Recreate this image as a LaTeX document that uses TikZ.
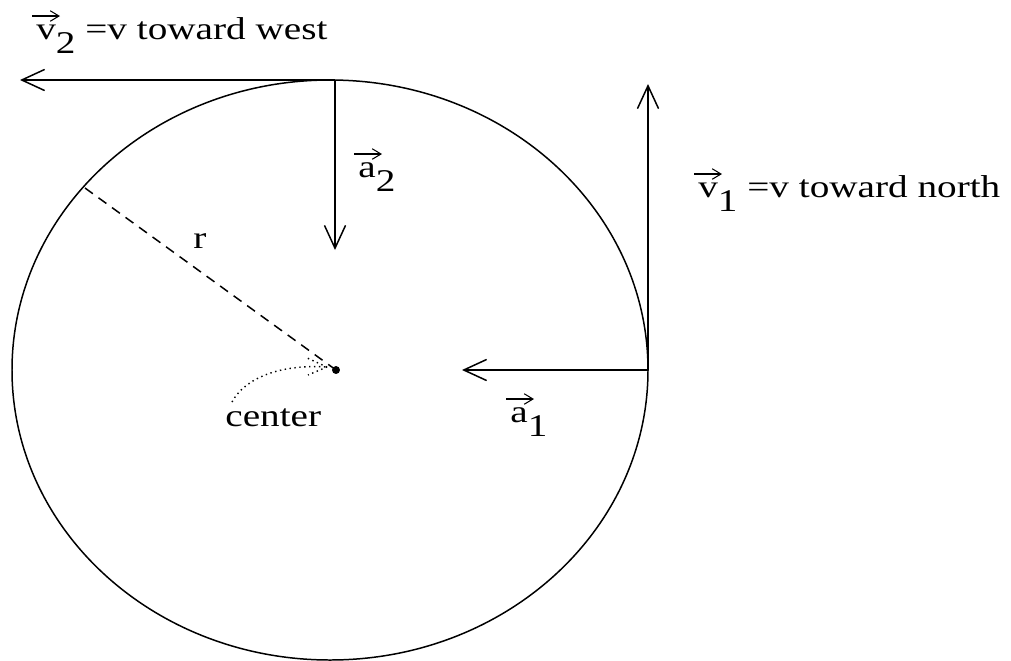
\documentclass[tikz,border=0pt]{standalone}
\usepackage{fontspec}
\setmainfont{Liberation Serif}
\usetikzlibrary{arrows.meta}
\newcommand{\wide}[1]{\scalebox{1.24}[1]{#1}}
\newcommand{\low}[1]{\raisebox{-8pt}{#1}}

\begin{document}
\begin{tikzpicture}[x=0.02cm, y=-0.02cm,
  vec/.style={-{Straight Barb[length=13pt,width=12pt]}, line width=0.85pt},
  overarrow/.style={-{Straight Barb[length=5pt,width=6pt]}, line width=0.6pt},
  lbl/.style={font=\fontsize{18}{21}\selectfont, inner sep=0pt, anchor=base west}
]
\useasboundingbox (0,0) rectangle (1011,660);

% orbit and its points
\coordinate (O) at (330,370);
\draw[line width=0.85pt] (O) ellipse [x radius=318, y radius=290];
\coordinate (top)  at (335,80);
\coordinate (east) at (648,370);
\coordinate (rim)  at (85,188);
\node[circle, fill, inner sep=1.6pt] (ctr) at (336,370) {};

% velocity and acceleration vectors
\coordinate (v2end) at (20,80);
\coordinate (a2end) at (335,250);
\coordinate (v1end) at (648,84);
\coordinate (a1end) at (462,370);
\draw[vec] (top)  -- (v2end);
\draw[vec] (top)  -- (a2end);
\draw[vec] (east) -- (v1end);
\draw[vec] (east) -- (a1end);

% radius
\draw[dash pattern=on 5.5pt off 4pt, line width=0.85pt] (rim) -- (ctr.center);

% labels
\node[lbl] (v2lbl) at (36,39)   {\wide{v\low{2} =v toward west}};
\node[lbl] (a2lbl) at (358,177) {\wide{a\low{2}}};
\node[lbl] (rlbl)  at (193,248) {\wide{r}};
\node[lbl] (clbl)  at (225,426) {\wide{center}};
\node[lbl] (a1lbl) at (510,422) {\wide{a\low{1}}};
\node[lbl] (v1lbl) at (698,197) {\wide{v\low{1} =v toward north}};

% vector marks over the symbols
\foreach \s in {v2lbl,a2lbl,a1lbl,v1lbl}
  \draw[overarrow] ([shift={(-4,-23)}]\s.base west) -- ++(28,0);

% pointer to the centre
\coordinate (ptr)  at (232,402);
\coordinate (ptip) at (327,367);
\draw[dotted, line width=0.8pt] (ptr) .. controls (245,378) and (280,364) .. (ptip);
\draw[dotted, line width=0.8pt] (ptip) -- ++(-22,-10);
\draw[dotted, line width=0.8pt] (ptip) -- ++(-19,8);
\end{tikzpicture}
\end{document}
